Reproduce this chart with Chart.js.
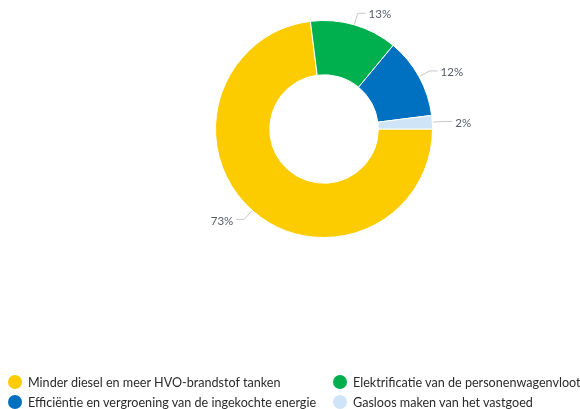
<!DOCTYPE html>
<html>
<head>
<meta charset="utf-8">
<script src="https://cdn.jsdelivr.net/npm/chart.js@4.4.1/dist/chart.umd.min.js"></script>
<style>
  html, body { margin: 0; padding: 0; background: #fff; }
  .wrap { position: relative; width: 580px; height: 409px; }
  .legend { position: absolute; left: 0; top: 373px; width: 580px; font-family: Lato, sans-serif; font-size: 12.6px; color: #2b2b2b; }
  .legend-item { position: absolute; display: flex; align-items: center; white-space: nowrap; height: 18px; }
  .legend-dot { width: 14px; height: 14px; border-radius: 50%; margin-right: 6px; }
</style>
</head>
<body>
<div class="wrap">
  <canvas id="chart-doughnut" width="580" height="409"></canvas>
  <div class="legend" id="legend-wrap"></div>
</div>
<script>
const categories = [
  'Minder diesel en meer HVO-brandstof tanken',
  'Elektrificatie van de personenwagenvloot',
  'Efficiëntie en vergroening van de ingekochte energie',
  'Gasloos maken van het vastgoed'
]
const shares = [73, 13, 12, 2]
const colors = ['#fccc00', '#00b04f', '#0070c0', '#cfe4f7']

// leader lines + percentage labels outside the ring
const outsideLabels = {
  id: 'outsideLabels',
  afterDatasetsDraw(chart) {
    const ctx = chart.ctx
    const meta = chart.getDatasetMeta(0)
    ctx.save()
    ctx.font = '11.5px Lato, sans-serif'
    ctx.fillStyle = '#555a64'
    ctx.strokeStyle = '#c8c8c8'
    ctx.lineWidth = 1
    ctx.textBaseline = 'middle'
    meta.data.forEach((arc, i) => {
      const p = arc.getProps(['x', 'y', 'startAngle', 'endAngle', 'outerRadius'], true)
      const mid = (p.startAngle + p.endAngle) / 2
      const cos = Math.cos(mid)
      const sin = Math.sin(mid)
      const x0 = p.x + cos * (p.outerRadius + 1)
      const y0 = p.y + sin * (p.outerRadius + 1)
      const x1 = p.x + cos * (p.outerRadius + 12)
      const y1 = p.y + sin * (p.outerRadius + 12)
      const right = cos >= 0
      const x2 = x1 + (right ? 8 : -8)
      ctx.beginPath()
      ctx.moveTo(x0, y0)
      ctx.lineTo(x1, y1)
      ctx.lineTo(x2, y1)
      ctx.stroke()
      ctx.textAlign = right ? 'left' : 'right'
      ctx.fillText(shares[i] + '%', x2 + (right ? 3 : -3), y1 + 1.5)
    })
    ctx.restore()
  }
}

const config = {
  type: 'doughnut',
  data: {
    labels: categories,
    datasets: [{
      data: shares,
      backgroundColor: colors,
      borderColor: '#ffffff',
      borderWidth: 1,
      hoverOffset: 0
    }]
  },
  options: {
    responsive: false,
    animation: false,
    rotation: 90,
    cutout: '50%',
    layout: {
      padding: { left: 215, right: 147, top: 20, bottom: 171 }
    },
    plugins: {
      legend: { display: false },
      tooltip: { enabled: false }
    }
  },
  plugins: [outsideLabels]
}

new Chart(document.getElementById('chart-doughnut'), config)

// legend in two columns
const legendWrap = document.getElementById('legend-wrap')
const legendPos = [[8, 0], [333, 0], [8, 20], [333, 20]]
categories.forEach((name, i) => {
  const item = document.createElement('div')
  item.className = 'legend-item'
  item.style.left = legendPos[i][0] + 'px'
  item.style.top = legendPos[i][1] + 'px'
  item.innerHTML = `<span class="legend-dot" style="background:${colors[i]}"></span><span>${name}</span>`
  legendWrap.appendChild(item)
})
</script>
</body>
</html>
